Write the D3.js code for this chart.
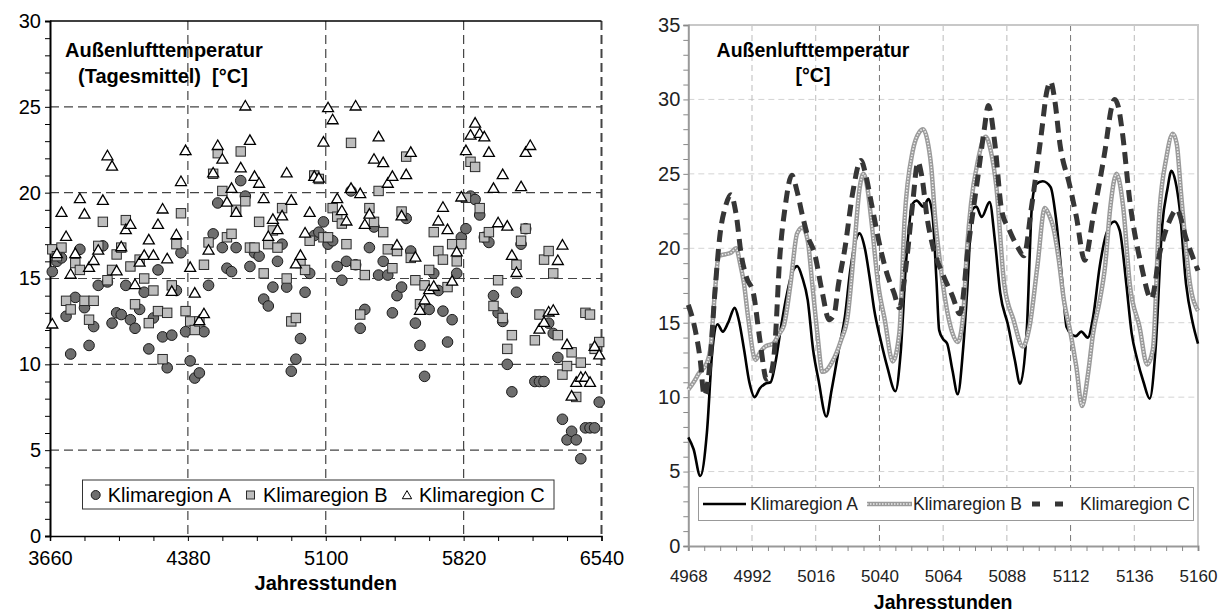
<!DOCTYPE html>
<html>
<head>
<meta charset="utf-8">
<script src="https://cdn.jsdelivr.net/npm/d3@7"></script>
<style>
  body { margin: 0; background: #fff; }
  svg { display: block; font-family: "Liberation Sans", Arial, sans-serif; }
  .axis-title { font-weight: bold; }
</style>
</head>
<body>
<svg id="chart" width="1226" height="612"></svg>
<script>
// left panel: daily means, one value per day starting at hour 3672 (null = not visible)
var dayHours = d3.range(3672, 6540, 24);
var regionA = [15.4,16.0,16.2,12.8,10.6,13.9,16.7,13.3,11.1,12.2,14.6,16.9,14.8,12.4,13.0,12.9,14.6,12.6,12.1,13.2,
  14.2,10.9,12.7,15.5,11.6,9.8,11.7,14.3,16.5,11.9,10.2,9.2,9.5,11.9,14.6,17.6,19.4,16.8,15.6,15.4,
  16.8,20.7,19.8,15.7,16.5,16.3,13.8,13.4,14.5,16.0,17.0,14.5,9.6,10.3,11.5,14.2,15.3,17.5,17.7,18.3,
  17.0,17.2,15.7,14.9,16.0,20.1,15.8,12.1,13.2,16.8,18.0,15.2,16.0,15.2,13.0,14.0,14.5,18.5,16.6,12.4,
  11.1,9.3,13.2,15.3,14.3,13.1,11.3,12.6,15.3,17.4,17.9,19.8,19.6,18.7,17.4,17.1,14.0,13.0,12.5,10.0,
  8.4,14.2,17.0,17.9,null,9.0,9.0,9.0,12.4,11.8,10.4,6.8,5.6,6.1,5.6,4.5,6.3,6.3,6.3,7.8];
var regionB = [16.7,16.3,16.8,13.7,13.2,15.9,15.5,13.7,12.6,13.7,16.9,18.3,14.9,15.5,16.4,16.8,18.4,15.7,13.5,16.1,
  15.0,12.4,14.3,13.1,10.3,13.0,14.6,17.0,18.8,13.1,12.5,12.0,12.5,15.8,17.1,21.1,22.3,20.1,17.4,17.6,
  19.0,22.4,19.5,16.8,16.8,18.3,15.3,17.0,17.8,16.8,19.1,15.0,12.5,12.7,15.9,15.5,17.2,21.0,20.8,17.4,
  17.4,19.1,18.6,18.2,17.0,22.9,15.8,12.9,15.2,19.1,18.3,20.1,17.7,16.7,15.6,16.6,18.9,22.1,16.2,14.9,
  13.5,14.6,15.5,17.7,16.6,16.1,14.5,17.0,16.0,17.0,19.7,21.8,21.5,19.1,17.4,17.7,13.4,14.9,12.7,10.9,
  11.7,15.8,17.2,17.9,null,11.4,12.9,16.1,16.6,15.3,11.7,9.4,9.9,10.7,8.1,10.1,13.0,12.9,10.9,11.3];
var regionC = [12.3,16.4,18.8,17.4,15.2,16.4,19.6,18.7,15.6,16.0,16.6,19.5,22.1,21.5,15.4,16.8,17.8,18.1,14.6,15.9,
  16.3,17.2,16.3,18.1,19.0,16.1,14.2,17.5,20.6,22.4,15.6,14.1,12.5,12.9,16.6,21.1,22.7,21.9,19.4,20.2,
  18.8,21.4,25.0,23.0,20.9,20.5,19.6,17.4,18.4,17.8,18.6,21.1,19.5,15.8,16.3,17.6,18.8,20.9,20.8,22.9,
  24.9,24.2,19.6,18.9,18.3,20.2,25.0,19.9,18.1,18.7,21.9,23.2,21.7,20.5,20.9,16.9,18.6,21.0,22.3,16.2,
  13.1,13.7,14.3,14.5,18.3,19.1,17.8,14.8,16.5,19.7,22.4,23.3,24.0,23.4,23.2,22.3,20.2,18.2,21.0,18.0,
  16.3,15.3,20.3,22.3,22.7,null,12.0,12.4,13.0,13.1,16.0,16.9,11.1,8.1,8.9,9.2,9.2,8.9,11.0,10.5];
var leftXTicks = [3660, 4380, 5100, 5820, 6540];
var leftYTicks = [0, 5, 10, 15, 20, 25, 30];

var hoursA = [4968,4970,4972.5,4975,4977,4979,4981,4983,4985.5,4987,4989,4991,4993,4995,4997,4999,5001,5003,5005,5007,
  5009,5011,5013,5015,5017,5020,5022,5025,5027,5029,5031,5032.5,5034.5,5036.5,5038,5040.5,5043,5046,5048,5050,
  5052.5,5054,5056.5,5058.5,5060,5061.5,5062.5,5064,5065.5,5067.5,5069.5,5071.5,5073,5075,5076.5,5078.5,5081.5,5083.5,5085.5,5088.5,
  5091,5093,5095.5,5097.5,5099,5101.5,5104.5,5106.5,5109,5110.5,5112.5,5114,5116,5118.5,5120.5,5123,5125.5,5128.5,5130.5,5133,
  5135,5137,5139.5,5141.8,5144,5146.5,5148.5,5150,5151.5,5153,5155.5,5158,5160];
var tempA = [7.3,6.5,4.7,7.6,13.0,14.9,14.4,15.0,16.0,15.2,13.2,11.0,10.0,10.6,10.9,11.0,12.5,14.8,16.8,18.3,
  18.8,18.0,16.5,13.2,11.2,8.7,10.5,13.5,15.4,18.5,20.5,21.0,20.0,17.8,15.9,13.8,12.0,10.4,13.0,19.0,
  23.0,23.2,22.8,23.3,22.2,17.8,14.5,13.9,13.6,11.8,10.2,13.2,17.0,22.6,22.8,22.1,23.1,20.5,17.0,14.8,
  12.5,10.9,14.5,23.0,24.3,24.5,24.1,22.0,17.5,14.7,14.2,14.1,14.4,14.0,15.4,18.8,21.0,21.8,21.2,17.6,
  14.3,12.6,11.0,9.9,13.2,21.5,24.0,25.2,24.5,22.8,17.6,15.0,13.6];
var hoursB = [4968,4970,4972,4975,4976.5,4978,4979.5,4982,4984,4986,4987.5,4989,4990.5,4993.3,4995,4997,5000,5002,5004,5006.5,
  5009,5011,5013,5014.7,5016.6,5018.5,5020,5022,5025.5,5028,5030.5,5032.5,5034,5035.5,5037,5039.5,5042,5045,5047.5,5049.5,
  5052.5,5055,5056.5,5058,5059.5,5061,5063,5065.5,5067.5,5069.5,5071.5,5073,5074.5,5077,5080,5082,5084,5087,5090.5,5094,
  5096.5,5099.5,5102.3,5104,5105.5,5107.5,5109.5,5112,5114.2,5116.3,5118.6,5120.5,5123,5125,5127,5129.3,5131.8,5134.3,5138,5140.8,
  5143,5145.5,5148,5150.5,5152,5153.7,5157,5160];
var tempB = [10.5,11.0,11.6,12.3,13.5,17.0,19.5,19.6,19.7,20.0,19.0,17.6,15.4,12.5,13.0,13.4,13.6,14.2,14.8,17.6,
  21.0,21.4,20.5,17.6,14.3,11.7,11.8,12.3,13.8,15.4,20.0,24.0,25.0,24.0,21.8,17.6,15.2,12.4,14.3,22.0,
  26.5,27.8,28.0,27.3,25.5,22.0,18.8,15.8,14.3,13.7,15.4,20.0,23.0,25.8,27.5,26.5,24.2,17.6,15.2,13.4,
  14.7,18.8,22.7,22.2,21.4,19.3,16.5,14.3,12.0,9.4,11.6,14.3,16.5,18.8,22.8,25.0,22.8,17.6,14.7,12.2,
  13.2,22.5,26.0,27.7,27.0,23.5,17.6,15.8];
var hoursC = [4968,4970,4972.5,4974,4976,4978,4980,4982,4984,4986,4988,4990,4992.5,4995,4997.5,4999,5000.5,5002.5,5004.5,5007,
  5009,5011,5013,5015.5,5018.5,5021,5023,5024.5,5027,5030,5033,5035,5037,5040.5,5043,5045.5,5047.5,5050,5052.5,5054.5,
  5056,5058,5060,5064,5067.5,5070.3,5073.5,5077,5079.5,5081,5083.5,5086,5089,5092,5094.4,5097.3,5101,5103,5104.5,5106,
  5108,5111.7,5114.2,5117.3,5120.5,5125,5127.5,5128.6,5130,5131.5,5134.3,5138.7,5142.4,5145.6,5149.4,5152,5155.6,5160];
var tempC = [16.2,15.0,12.5,10.1,12.0,17.0,21.0,22.8,23.6,22.3,19.5,18.0,17.0,13.8,11.2,11.5,13.2,19.5,22.8,24.9,
  23.8,22.2,20.8,19.7,17.0,15.2,15.6,17.5,20.0,23.8,25.9,24.8,23.0,19.9,18.2,17.0,16.0,18.8,23.0,25.8,
  24.8,22.0,20.2,18.2,16.8,15.6,20.2,24.7,28.0,29.6,27.0,22.6,21.2,20.1,19.5,22.8,27.7,30.5,31.2,30.0,
  27.0,24.2,22.1,19.2,22.1,26.6,29.5,30.0,29.5,27.8,23.2,18.8,16.6,19.7,21.9,22.6,20.6,18.5];
var rightXTicks = [4968, 4992, 5016, 5040, 5064, 5088, 5112, 5136, 5160];
var rightYTicks = [0, 5, 10, 15, 20, 25, 30, 35];
var legendNames = ['Klimaregion A', 'Klimaregion B', 'Klimaregion C'];

var svg = d3.select('#chart');

// ---------- left: scatter of daily means ----------
var xL = d3.scaleLinear().domain([3660, 6540]).range([50, 601.5]);
var yL = d3.scaleLinear().domain([0, 30]).range([536, 21]);
var left = svg.append('g');

left.append('g')
  .selectAll('line').data(leftYTicks.filter(function(d) { return d > 0 && d < 30; }))
  .join('line')
  .attr('x1', xL(3660)).attr('x2', xL(6540))
  .attr('y1', function(d) { return yL(d); }).attr('y2', function(d) { return yL(d); })
  .attr('stroke', '#444').attr('stroke-width', 1.2).attr('stroke-dasharray', '9,5');

left.append('g')
  .selectAll('line').data(leftXTicks.slice(1))
  .join('line')
  .attr('x1', function(d) { return xL(d); }).attr('x2', function(d) { return xL(d); })
  .attr('y1', yL(30)).attr('y2', yL(0))
  .attr('stroke', '#444').attr('stroke-width', function(d) { return d === 6540 ? 2 : 1.2; })
  .attr('stroke-dasharray', '9,5');

// top frame
left.append('line')
  .attr('x1', xL(3660)).attr('x2', xL(6540)).attr('y1', yL(30)).attr('y2', yL(30))
  .attr('stroke', '#000').attr('stroke-width', 1.5);

var xAxisL = d3.axisBottom(xL)
  .tickValues(d3.range(3660, 6541, 180))
  .tickSize(5).tickPadding(10)
  .tickFormat(function(d) { return leftXTicks.indexOf(d) >= 0 ? d : ''; });
left.append('g').attr('transform', 'translate(0,' + yL(0) + ')').call(xAxisL)
  .call(function(g) {
    g.select('.domain').attr('stroke', '#000').attr('stroke-width', 1.5);
    g.selectAll('.tick line').attr('stroke', '#000');
    g.selectAll('text').attr('font-size', 20).attr('fill', '#000')
      .attr('font-family', '"Liberation Sans", Arial, sans-serif');
  });

var yAxisL = d3.axisLeft(yL)
  .tickValues(d3.range(0, 31, 1))
  .tickSize(5).tickPadding(4)
  .tickFormat(function(d) { return leftYTicks.indexOf(d) >= 0 ? d : ''; });
left.append('g').attr('transform', 'translate(' + xL(3660) + ',0)').call(yAxisL)
  .call(function(g) {
    g.select('.domain').attr('stroke', '#000').attr('stroke-width', 2);
    g.selectAll('.tick line').attr('stroke', '#000');
    g.selectAll('text').attr('font-size', 20).attr('fill', '#000')
      .attr('font-family', '"Liberation Sans", Arial, sans-serif');
  });

// markers: A circles, B squares, C triangles (drawn in series order)
function valid(arr) {
  return arr.map(function(v, i) { return { h: dayHours[i], v: v }; })
    .filter(function(d) { return d.v !== null; });
}
left.append('g').selectAll('circle').data(valid(regionA)).join('circle')
  .attr('cx', function(d) { return xL(d.h); }).attr('cy', function(d) { return yL(d.v); })
  .attr('r', 5.3).attr('fill', '#6e6e6e').attr('stroke', '#1a1a1a').attr('stroke-width', 1);
left.append('g').selectAll('rect').data(valid(regionB)).join('rect')
  .attr('x', function(d) { return xL(d.h) - 4.7; }).attr('y', function(d) { return yL(d.v) - 4.7; })
  .attr('width', 9.4).attr('height', 9.4)
  .attr('fill', '#bdbdbd').attr('stroke', '#2a2a2a').attr('stroke-width', 1);
var tri = d3.symbol().type(d3.symbolTriangle).size(52);
left.append('g').selectAll('path').data(valid(regionC)).join('path')
  .attr('transform', function(d) { return 'translate(' + xL(d.h) + ',' + yL(d.v) + ')'; })
  .attr('d', tri).attr('fill', '#fff').attr('stroke', '#000').attr('stroke-width', 1.3);

// title inside the plot
left.append('text').attr('x', 65).attr('y', 57).attr('class', 'axis-title')
  .attr('font-size', 20).text('Außenlufttemperatur');
left.append('text').attr('x', 78).attr('y', 83).attr('class', 'axis-title')
  .attr('font-size', 20).attr('xml:space', 'preserve').text('(Tagesmittel)  [°C]');

left.append('text').attr('class', 'axis-title')
  .attr('x', (xL(3660) + xL(6540)) / 2).attr('y', 590)
  .attr('text-anchor', 'middle').attr('font-size', 20).text('Jahresstunden');

// legend
var legL = left.append('g');
legL.append('rect').attr('x', 82.5).attr('y', 480).attr('width', 471.5).attr('height', 29)
  .attr('fill', '#fff').attr('stroke', '#333').attr('stroke-width', 1);
legL.append('circle').attr('cx', 95.7).attr('cy', 495).attr('r', 4.5)
  .attr('fill', '#6e6e6e').attr('stroke', '#1a1a1a');
legL.append('rect').attr('x', 246.5).attr('y', 491).attr('width', 8).attr('height', 8)
  .attr('fill', '#bdbdbd').attr('stroke', '#2a2a2a');
legL.append('path').attr('transform', 'translate(407,496)')
  .attr('d', d3.symbol().type(d3.symbolTriangle).size(38)).attr('fill', '#fff').attr('stroke', '#000');
legL.selectAll('text.leg').data(legendNames).join('text')
  .attr('class', 'leg')
  .attr('x', function(d, i) { return [107.7, 263, 419][i]; }).attr('y', 502)
  .attr('font-size', 20).text(function(d) { return d; });

// ---------- right: hourly course ----------
var xR = d3.scaleLinear().domain([4968, 5160]).range([688.3, 1198]);
var yR = d3.scaleLinear().domain([0, 35]).range([546, 25]);
var right = svg.append('g');

right.append('g').selectAll('line').data(rightYTicks.filter(function(d) { return d > 0 && d < 35; }))
  .join('line')
  .attr('x1', xR(4968)).attr('x2', xR(5160))
  .attr('y1', function(d) { return yR(d); }).attr('y2', function(d) { return yR(d); })
  .attr('stroke', '#d4d4d4').attr('stroke-width', 1).attr('stroke-dasharray', '6,4');

right.append('g').selectAll('line').data(rightXTicks.slice(1, -1))
  .join('line')
  .attr('x1', function(d) { return xR(d); }).attr('x2', function(d) { return xR(d); })
  .attr('y1', yR(35)).attr('y2', yR(0))
  .attr('stroke', function(d) { return (d === 5040 || d === 5112) ? '#777' : '#bbb'; })
  .attr('stroke-width', 1).attr('stroke-dasharray', '6,4');

// plot frame top / right
right.append('path')
  .attr('d', 'M' + xR(4968) + ',' + yR(35) + 'H' + xR(5160) + 'V' + yR(0))
  .attr('fill', 'none').attr('stroke', '#c8c8c8').attr('stroke-width', 2);

var xAxisR = d3.axisBottom(xR)
  .tickValues(d3.range(4968, 5161, 6))
  .tickSize(5).tickPadding(19)
  .tickFormat(function(d) { return rightXTicks.indexOf(d) >= 0 ? d : ''; });
right.append('g').attr('transform', 'translate(0,' + yR(0) + ')').call(xAxisR)
  .call(function(g) {
    g.select('.domain').attr('stroke', '#999').attr('stroke-width', 2);
    g.selectAll('.tick line').attr('stroke', '#888');
    g.selectAll('text').attr('font-size', 17).attr('fill', '#222')
      .attr('font-family', '"Liberation Sans", Arial, sans-serif');
  });

var yAxisR = d3.axisLeft(yR)
  .tickValues(d3.range(0, 36, 1))
  .tickSize(5).tickPadding(3)
  .tickFormat(function(d) { return rightYTicks.indexOf(d) >= 0 ? d : ''; });
right.append('g').attr('transform', 'translate(' + xR(4968) + ',0)').call(yAxisR)
  .call(function(g) {
    g.select('.domain').attr('stroke', '#999').attr('stroke-width', 2);
    g.selectAll('.tick line').attr('stroke', '#888');
    g.selectAll('text').attr('font-size', 20).attr('fill', '#222')
      .attr('font-family', '"Liberation Sans", Arial, sans-serif');
  });

var line = d3.line()
  .x(function(d) { return xR(d[0]); })
  .y(function(d) { return yR(d[1]); })
  .curve(d3.curveMonotoneX);
var seriesA = d3.zip(hoursA, tempA);
var seriesB = d3.zip(hoursB, tempB);
var seriesC = d3.zip(hoursC, tempC);

right.append('path').datum(seriesA).attr('d', line)
  .attr('fill', 'none').attr('stroke', '#000').attr('stroke-width', 2.6);
right.append('path').datum(seriesB).attr('d', line)
  .attr('fill', 'none').attr('stroke', '#9b9b9b').attr('stroke-width', 4.5);
right.append('path').datum(seriesB).attr('d', line)
  .attr('fill', 'none').attr('stroke', '#ececec').attr('stroke-width', 1.6).attr('stroke-dasharray', '1.5,1.5');
right.append('path').datum(seriesC).attr('d', line)
  .attr('fill', 'none').attr('stroke', '#363636').attr('stroke-width', 5).attr('stroke-dasharray', '12,7');

right.append('text').attr('class', 'axis-title')
  .attr('x', 813).attr('y', 57).attr('text-anchor', 'middle').attr('font-size', 19.5)
  .text('Außenlufttemperatur');
right.append('text').attr('class', 'axis-title')
  .attr('x', 813).attr('y', 82).attr('text-anchor', 'middle').attr('font-size', 19.5)
  .text('[°C]');
right.append('text').attr('class', 'axis-title')
  .attr('x', (xR(4968) + xR(5160)) / 2).attr('y', 609)
  .attr('text-anchor', 'middle').attr('font-size', 19.5).text('Jahresstunden');

// legend
var legR = right.append('g');
legR.append('rect').attr('x', 698.5).attr('y', 487.5).attr('width', 495).attr('height', 33)
  .attr('fill', '#fff').attr('stroke', '#999').attr('stroke-width', 1);
legR.append('line').attr('x1', 703).attr('x2', 746).attr('y1', 504).attr('y2', 504)
  .attr('stroke', '#000').attr('stroke-width', 2.6);
legR.append('line').attr('x1', 867).attr('x2', 912).attr('y1', 504).attr('y2', 504)
  .attr('stroke', '#9b9b9b').attr('stroke-width', 4.5);
legR.append('line').attr('x1', 867).attr('x2', 912).attr('y1', 504).attr('y2', 504)
  .attr('stroke', '#ececec').attr('stroke-width', 1.6).attr('stroke-dasharray', '1.5,1.5');
legR.append('line').attr('x1', 1032).attr('x2', 1071).attr('y1', 504).attr('y2', 504)
  .attr('stroke', '#363636').attr('stroke-width', 5).attr('stroke-dasharray', '8,15');
legR.selectAll('text.leg').data(legendNames).join('text')
  .attr('class', 'leg')
  .attr('x', function(d, i) { return [750, 913, 1080][i]; }).attr('y', 510)
  .attr('font-size', 17.5).attr('fill', '#222').text(function(d) { return d; });
</script>
</body>
</html>
